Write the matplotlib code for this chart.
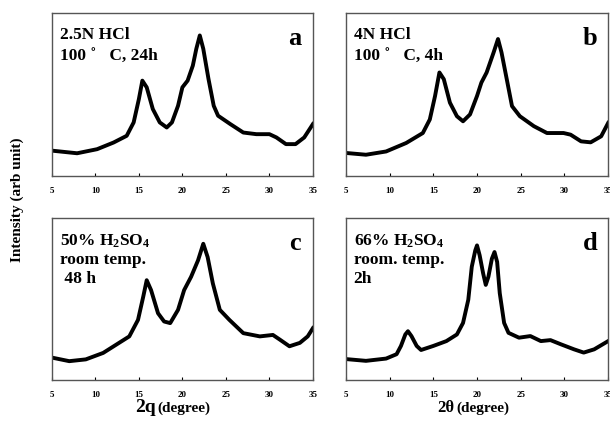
import numpy as np
import matplotlib
matplotlib.use("Agg")
import matplotlib.pyplot as plt

plt.rcParams['font.family'] = ['Liberation Serif', 'DejaVu Serif']
plt.rcParams['font.weight'] = 'bold'
plt.rcParams['mathtext.fontset'] = 'custom'
plt.rcParams['mathtext.rm'] = 'Liberation Serif:bold'
plt.rcParams['mathtext.it'] = 'Liberation Serif:bold'
plt.rcParams['mathtext.bf'] = 'Liberation Serif:bold'

# panel a : 2.5N HCl
x_a = [5.2, 7.9, 10.2, 12.1, 13.6, 14.4, 15.0, 15.4, 15.9, 16.6, 17.4, 18.2, 18.8, 19.5,
       20.0, 20.6, 21.2, 21.6, 22.0, 22.4, 23.0, 23.6, 24.1, 25.5, 27.0, 28.5, 30.0, 30.8,
       31.9, 33.0, 34.0, 35.0]
y_a = [15.4, 13.9, 16.4, 20.5, 24.6, 32.8, 47.1, 58.4, 54.3, 41.0, 32.8, 29.7, 32.8, 43.0,
       54.3, 58.4, 67.6, 77.9, 86.1, 77.9, 59.4, 43.0, 36.9, 31.8, 26.6, 25.6, 25.6, 23.6,
       19.5, 19.5, 23.6, 31.8]

# panel b : 4N HCl
x_b = [5.2, 7.3, 9.6, 11.9, 13.8, 14.6, 15.2, 15.7, 16.2, 16.9, 17.7, 18.4, 19.2, 20.0,
       20.5, 21.1, 21.9, 22.4, 22.8, 23.4, 24.0, 24.9, 26.5, 28.0, 29.9, 30.7, 31.9, 33.0,
       34.2, 35.0]
y_b = [14.0, 13.0, 15.0, 20.2, 26.3, 34.6, 49.0, 63.4, 59.3, 44.9, 36.6, 33.5, 37.7, 49.0,
       57.2, 63.4, 75.7, 83.9, 75.7, 59.3, 42.8, 36.6, 30.5, 26.3, 26.3, 25.3, 21.2, 20.6,
       24.3, 32.5]

# panel c : 50% H2SO4
x_c = [5.1, 7.0, 8.9, 10.9, 12.4, 13.9, 14.9, 15.5, 15.9, 16.4, 17.2, 17.9, 18.6, 19.5,
       20.2, 21.0, 21.8, 22.4, 22.9, 23.5, 24.3, 25.4, 27.0, 28.9, 30.4, 31.2, 32.3, 33.5,
       34.4, 35.0]
y_c = [13.7, 11.6, 12.7, 16.7, 21.8, 26.9, 37.1, 51.4, 61.6, 55.5, 41.2, 36.1, 35.1, 43.3,
       55.5, 63.7, 73.9, 84.1, 75.9, 59.6, 43.3, 37.1, 28.9, 26.9, 27.8, 24.9, 20.8, 22.9,
       26.9, 32.0]

# panel d : 66% H2SO4
x_d = [5.2, 7.3, 9.6, 10.8, 11.3, 11.8, 12.1, 12.5, 13.1, 13.6, 15.0, 16.5, 17.7, 18.4,
       19.0, 19.4, 19.8, 20.0, 20.3, 20.7, 21.0, 21.3, 21.7, 22.0, 22.3, 22.6, 23.1, 23.6,
       24.8, 26.1, 27.3, 28.4, 29.6, 31.1, 32.2, 33.4, 35.0]
y_d = [12.8, 11.8, 13.2, 15.9, 21.0, 28.1, 30.1, 27.1, 21.0, 18.5, 21.0, 24.0, 28.1, 35.2,
       49.5, 69.9, 80.0, 83.1, 77.0, 65.8, 58.7, 63.7, 74.9, 79.0, 72.9, 53.6, 35.2, 29.1,
       26.1, 27.1, 24.0, 24.6, 22.0, 18.9, 16.9, 18.9, 24.0]

labels = ["2.5N HCl\n100 ˚   C, 24h", "4N HCl\n100 ˚   C, 4h",
          "50% H$_2$SO$_4$\nroom temp.\n 48 h", "66% H$_2$SO$_4$\nroom. temp.\n2h"]
letters = ["a", "b", "c", "d"]
ticks = [5, 10, 15, 20, 25, 30, 35]

fig = plt.figure(figsize=(6.1, 4.25), dpi=100)
boxes = [[0.085, 0.586, 0.428, 0.384], [0.567, 0.586, 0.430, 0.384],
         [0.085, 0.106, 0.428, 0.381], [0.567, 0.106, 0.430, 0.381]]
data = [(x_a, y_a), (x_b, y_b), (x_c, y_c), (x_d, y_d)]

for i in range(4):
    ax = fig.add_axes(boxes[i])
    x, y = data[i]
    ax.plot(x, y, color='black', lw=2.8, solid_joinstyle='round')
    ax.set_xlim(5, 35)
    ax.set_ylim(0, 100)
    ax.set_yticks([])
    ax.set_xticks(ticks)
    ax.set_xticklabels([str(t) for t in ticks], fontsize=6.5, fontweight='bold')
    ax.tick_params(axis='x', direction='in', length=2.5, pad=8)
    for s in ax.spines.values():
        s.set_color('#555555')
        s.set_linewidth(1.0)
    ls = 1.45 if i < 2 else 1.2
    ax.text(0.03, 0.91, labels[i], transform=ax.transAxes, fontsize=12.5,
            fontweight='bold', va='top', ha='left', linespacing=ls)
    ax.text(0.93, 0.84, letters[i], transform=ax.transAxes, fontsize=19,
            fontweight='bold', va='center', ha='center')

fig.text(0.028, 0.53, "Intensity (arb unit)", rotation=90, fontsize=11,
         fontweight='bold', va='center', ha='center')
fig.text(0.255, 0.04, "2q", fontsize=14, fontweight='bold', va='center', ha='right')
fig.text(0.258, 0.04, "(degree)", fontsize=11, fontweight='bold', va='center', ha='left')
fig.text(0.745, 0.04, "2θ", fontsize=12, fontweight='bold', va='center', ha='right')
fig.text(0.748, 0.04, "(degree)", fontsize=11, fontweight='bold', va='center', ha='left')

fig.savefig("out.png", dpi=100)
